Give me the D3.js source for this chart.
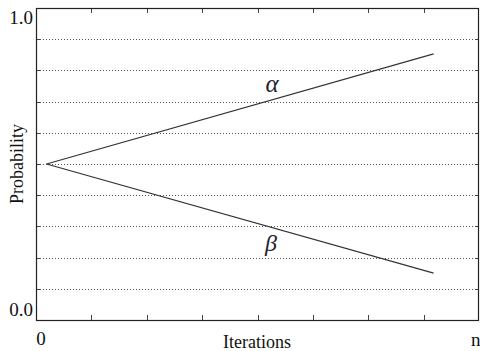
<!DOCTYPE html>
<html>
<head>
<meta charset="utf-8">
<script src="https://cdn.jsdelivr.net/npm/d3@7"></script>
<style>
  body { margin: 0; background: #fff; }
</style>
</head>
<body>
<div id="chart"></div>
<script>
const width = 480;
const height = 351;
const margin = { top: 8, right: 1, bottom: 31, left: 36 };
const serif = 'Liberation Serif';

// iterations run from 0 to n, drawn on a 0..8 scale
const xTicks = [1, 2, 3, 4, 5, 6, 7];
const gridLevels = [0.1, 0.2, 0.3, 0.4, 0.5, 0.6, 0.7, 0.8, 0.9];
const alphaX = [0.19, 7.18];
const alphaY = [0.5, 0.853];
const betaX = [0.19, 7.18];
const betaY = [0.5, 0.15];
const yLabels = [{ v: 1, t: '1.0' }, { v: 0, t: '0.0' }];

const svg = d3.select('#chart')
  .append('svg')
  .attr('width', width)
  .attr('height', height)
  .attr('font-family', serif);

const xScale = d3.scaleLinear()
  .domain([0, 8])
  .range([margin.left, width - margin.right]);

const yScale = d3.scaleLinear()
  .domain([0, 1])
  .range([height - margin.bottom, margin.top]);

const x0 = xScale(0);
const x1 = xScale(8);

// dotted grid
svg.append('g')
  .selectAll('line')
  .data(gridLevels)
  .enter()
  .append('line')
  .attr('x1', x0 + 4)
  .attr('x2', x1 - 4)
  .attr('y1', (d) => Math.round(yScale(d)) + 0.5)
  .attr('y2', (d) => Math.round(yScale(d)) + 0.5)
  .attr('stroke', '#555')
  .attr('stroke-width', 1)
  .attr('stroke-dasharray', '1,2');

// small solid ticks on both sides
const ySide = svg.append('g').attr('stroke', '#444');
gridLevels.forEach((d) => {
  const y = Math.round(yScale(d)) + 0.5;
  ySide.append('line').attr('x1', x0).attr('x2', x0 + 4).attr('y1', y).attr('y2', y);
  ySide.append('line').attr('x1', x1 - 4).attr('x2', x1).attr('y1', y).attr('y2', y);
});

const xSide = svg.append('g').attr('stroke', '#444');
xTicks.forEach((d) => {
  const x = Math.round(xScale(d)) + 0.5;
  xSide.append('line').attr('x1', x).attr('x2', x).attr('y1', yScale(1)).attr('y2', yScale(1) + 5);
  xSide.append('line').attr('x1', x).attr('x2', x).attr('y1', yScale(0)).attr('y2', yScale(0) - 5);
});

// frame
svg.append('rect')
  .attr('x', x0 + 0.5)
  .attr('y', yScale(1) + 0.5)
  .attr('width', x1 - x0 - 1)
  .attr('height', yScale(0) - yScale(1))
  .attr('fill', 'none')
  .attr('stroke', '#222')
  .attr('stroke-width', 1.2);

// probability lines
const line = d3.line()
  .x((d) => xScale(d[0]))
  .y((d) => yScale(d[1]));

[d3.zip(alphaX, alphaY), d3.zip(betaX, betaY)].forEach((pts) => {
  svg.append('path')
    .datum(pts)
    .attr('d', line)
    .attr('fill', 'none')
    .attr('stroke', '#333')
    .attr('stroke-width', 1.2);
});

svg.append('text')
  .attr('x', 272)
  .attr('y', 92)
  .attr('text-anchor', 'middle')
  .attr('font-style', 'italic')
  .attr('font-size', 25)
  .attr('fill', '#223')
  .text('α');

svg.append('text')
  .attr('x', 271)
  .attr('y', 251)
  .attr('text-anchor', 'middle')
  .attr('font-style', 'italic')
  .attr('font-size', 24)
  .attr('fill', '#223')
  .text('β');

// axis labels
svg.selectAll('.ylab')
  .data(yLabels)
  .enter()
  .append('text')
  .attr('class', 'ylab')
  .attr('x', 33)
  .attr('y', (d) => yScale(d.v) + (d.v === 1 ? 16 : -4))
  .attr('text-anchor', 'end')
  .attr('font-size', 19)
  .attr('fill', '#111')
  .text((d) => d.t);

svg.append('text')
  .attr('x', xScale(0) + 5)
  .attr('y', 345)
  .attr('text-anchor', 'middle')
  .attr('font-size', 19)
  .attr('fill', '#111')
  .text('0');

svg.append('text')
  .attr('x', 471)
  .attr('y', 346)
  .attr('font-size', 19)
  .attr('fill', '#111')
  .text('n');

svg.append('text')
  .attr('x', 257)
  .attr('y', 348)
  .attr('text-anchor', 'middle')
  .attr('font-size', 18)
  .attr('fill', '#111')
  .text('Iterations');

svg.append('text')
  .attr('transform', `translate(23, ${yScale(0.5)}) rotate(-90)`)
  .attr('text-anchor', 'middle')
  .attr('font-size', 18)
  .attr('fill', '#111')
  .text('Probability');
</script>
</body>
</html>
